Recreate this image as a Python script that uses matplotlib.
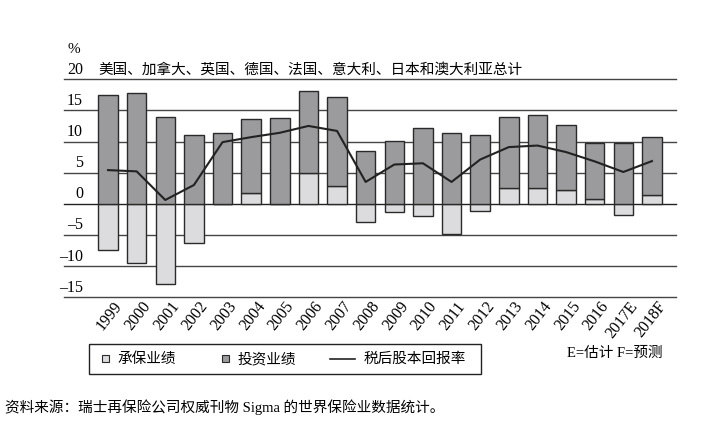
import matplotlib
matplotlib.use('Agg')
import matplotlib.pyplot as plt
import matplotlib.patches as mpatches
import matplotlib.transforms as mtransforms
from matplotlib.lines import Line2D

plt.rcParams['font.family'] = ['Liberation Serif', 'Noto Sans CJK SC']

# ---- data ------------------------------------------------------------
years = ['1999', '2000', '2001', '2002', '2003', '2004', '2005', '2006', '2007', '2008',
         '2009', '2010', '2011', '2012', '2013', '2014', '2015', '2016', '2017E', '2018F']
underwriting = [-7.5, -9.55, -12.9, -6.3, 0.0, 1.8, 0.0, 5.0, 2.8, -2.9,
                -1.4, -2.0, -4.9, -1.2, 2.5, 2.5, 2.25, 0.7, -1.8, 1.4]
investment = [17.4, 17.8, 13.9, 11.0, 11.3, 11.8, 13.7, 13.1, 14.4, 8.4,
              10.05, 12.1, 11.3, 11.1, 11.5, 11.7, 10.35, 9.0, 9.7, 9.3]
roe = [5.4, 5.2, 0.6, 3.0, 9.9, 10.7, 11.4, 12.5, 11.7, 3.5,
       6.3, 6.5, 3.5, 7.1, 9.1, 9.35, 8.3, 6.8, 5.1, 6.85]
yticks = [20, 15, 10, 5, 0, -5, -10, -15]
ytick_labels = ['20', '15', '10', '5', '0', '–5', '–10', '–15']

title = '美国、加拿大、英国、德国、法国、意大利、日本和澳大利亚总计'
leg_labels = ['承保业绩', '投资业绩', '税后股本回报率']
note = 'E=估计 F=预测'
source = '资料来源：瑞士再保险公司权威刊物 Sigma 的世界保险业数据统计。'

light = '#dcdcde'
dark = '#9b9b9e'
edge = '#2a2a2a'

W, H = 721, 425
fig = plt.figure(figsize=(W / 100, H / 100), dpi=100)
ax = fig.add_axes([64 / W, 1 - 297 / H, 612 / W, (297 - 79.3) / H])

x = list(range(len(years)))
inv_bottom = [max(u, 0) for u in underwriting]

ax.bar(x, underwriting, width=0.68, color=light, edgecolor=edge, linewidth=1.0, zorder=3)
ax.bar(x, investment, bottom=inv_bottom, width=0.68, color=dark, edgecolor=edge,
       linewidth=1.0, zorder=3)
ax.plot(x, roe, color='#222222', linewidth=1.5, zorder=4)

for v in yticks:
    ax.axhline(v, color='#444444' if v else '#222222', linewidth=1.0, zorder=1,
               clip_on=False)

ax.set_xlim(-1.537, 19.84)
ax.set_ylim(-15, 20)
for s in ax.spines.values():
    s.set_visible(False)
ax.set_yticks([])
ax.tick_params(axis='x', length=0, pad=1)
ax.set_xticks(x)
ax.set_xticklabels(years, rotation=52, ha='right', va='top', rotation_mode='anchor',
                   fontsize=11.5)
shift = mtransforms.ScaledTranslation(5 / 100, 0, fig.dpi_scale_trans)
for lab in ax.get_xticklabels():
    lab.set_transform(lab.get_transform() + shift)

# y labels sit above the grid lines
ytr = ax.get_yaxis_transform()
for v, t in zip(yticks, ytick_labels):
    ax.annotate(t, xy=(19 / 612, v), xycoords=ytr, xytext=(0, 1),
                textcoords='offset points', ha='right', va='bottom', fontsize=11.5)
ax.annotate('%', xy=(4 / 612, 20), xycoords=ytr, xytext=(0, 17),
            textcoords='offset points', ha='left', va='bottom', fontsize=11)
ax.annotate(title, xy=(34 / 612, 20), xycoords=ytr, xytext=(0, 2),
            textcoords='offset points', ha='left', va='bottom', fontsize=10.5)

# legend drawn by hand in figure pixels (y from top)
px = mtransforms.Affine2D().scale(1 / W, -1 / H).translate(0, 1) + fig.transFigure
fig.patches.append(mpatches.Rectangle((89, 344), 392, 30, transform=px, fill=False,
                                      edgecolor='#222222', linewidth=1.0))
cy = 359
for x0, col in [(102, light), (222, dark)]:
    fig.patches.append(mpatches.Rectangle((x0, cy - 3.5), 7, 7, transform=px,
                                          facecolor=col, edgecolor=edge, linewidth=0.8))
fig.lines.append(Line2D([330, 355], [cy, cy], transform=px, color='#222222',
                        linewidth=1.2))
for tx, t in zip([117, 238, 364], leg_labels):
    fig.text(tx, cy, t, transform=px, ha='left', va='center', fontsize=10.5)

fig.text(567, 353, note, transform=px, ha='left', va='center', fontsize=10.5)
fig.text(5, 407, source, transform=px, ha='left', va='center', fontsize=10.5)

fig.savefig('out.png', dpi=100)
